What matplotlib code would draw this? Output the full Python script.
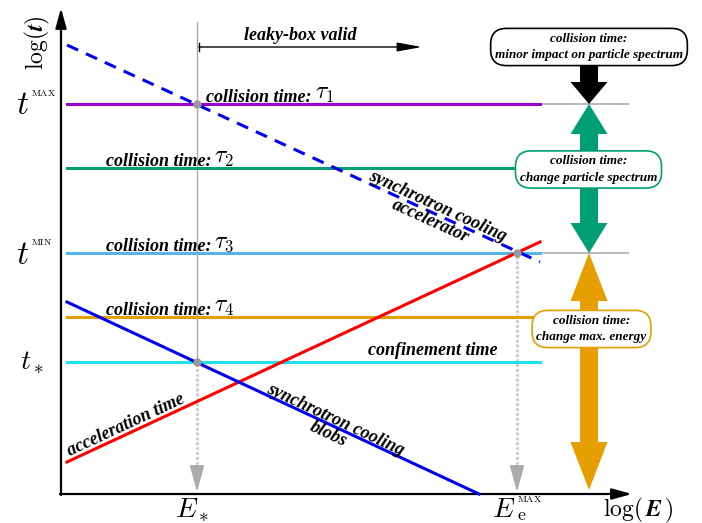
import matplotlib.pyplot as plt
from matplotlib.patches import Polygon

plt.rcParams['mathtext.fontset'] = 'cm'

# schematic values in log units (origin at the axis crossing)
E_start, E_end = 0.12, 9.58
E_star = 2.72
E_emax = 9.12
E_ref_end = 11.34
E_axis_end = 11.42
t_axis_end = 9.72

tau_levels = [7.8, 6.52, 4.82, 3.54]
tau_colors = ['#9900cc', '#009e73', '#56b4e9', '#e69f00']
tau_names = ['$\\tau_1$', '$\\tau_2$', '$\\tau_3$', '$\\tau_4$']
tau_label_E = [5.02, 3.0, 3.0, 3.0]
t_conf = 2.64

acc_E = [0.12, 9.58]
acc_t = [0.64, 5.04]
sync_acc_E = [0.12, 9.58]
sync_acc_t = [8.98, 4.64]
sync_blob_E = [0.12, 8.36]
sync_blob_t = [3.84, 0.0]

effect_E = 10.56
effect_t = [[7.8, 8.94], [4.82, 7.8], [0.08, 4.82]]
effect_colors = ['black', '#009e73', '#e69f00']
effect_head = [0.44, 0.6, 0.96]
effect_text = ['collision time:\nminor impact on particle spectrum',
               'collision time:\nchange particle spectrum',
               'collision time:\nchange max. energy']
effect_box = [(10.56, 8.94), (10.55, 6.49), (10.61, 3.30)]

lab_font = dict(family='Liberation Serif', style='italic', weight='bold')


def arrow_poly(x, lo, hi, hl, both, w=0.36, hw=0.74):
    # vertical block arrow, tip at lo (and at hi if both)
    pts = [(x, lo), (x + hw / 2, lo + hl), (x + w / 2, lo + hl)]
    if both:
        pts += [(x + w / 2, hi - hl), (x + hw / 2, hi - hl), (x, hi),
                (x - hw / 2, hi - hl), (x - w / 2, hi - hl)]
    else:
        pts += [(x + w / 2, hi), (x - w / 2, hi)]
    pts += [(x - w / 2, lo + hl), (x - hw / 2, lo + hl)]
    return pts


fig = plt.figure(figsize=(7.02, 5.23), dpi=100)
ax = fig.add_axes([0, 0, 1, 1])
ax.set_xlim(-1.22, 12.82)
ax.set_ylim(-0.58, 9.88)
ax.axis('off')

# axes arrows
ax_arrow = dict(arrowstyle='-|>,head_length=0.8,head_width=0.22', color='black',
                lw=1.6, mutation_scale=15, shrinkA=0, shrinkB=0)
ax.annotate('', xy=(E_axis_end, 0), xytext=(-0.02, 0), arrowprops=ax_arrow)
ax.annotate('', xy=(0, t_axis_end), xytext=(0, -0.02), arrowprops=ax_arrow)
ax.text(-0.48, 9.02, '$\\log(\\boldsymbol{t})$', rotation=90, fontsize=17,
        ha='center', va='center')
ax.text(11.54, -0.32, '$\\log(\\,\\boldsymbol{E}\\,)$', fontsize=17, ha='center', va='center')

# tick-like labels
for lev, sup in [(7.8, 'MAX'), (4.82, 'MIN')]:
    ax.text(-0.64, lev - 0.02, '$t$', fontsize=24, ha='right', va='center')
    ax.text(-0.6, lev + 0.16, '$\\mathrm{' + sup + '}$', fontsize=7, ha='left', va='baseline')
ax.text(-0.58, t_conf, '$t_*$', fontsize=20, ha='center', va='center')
ax.text(E_star - 0.1, -0.46, '$E_*$', fontsize=20, ha='center', va='baseline')
ax.text(E_emax - 0.04, -0.46, '$E$', fontsize=20, ha='right', va='baseline')
ax.text(E_emax, -0.17, '$\\mathrm{MAX}$', fontsize=7, ha='left', va='baseline')
ax.text(E_emax, -0.52, '$\\mathrm{e}$', fontsize=13, ha='left', va='baseline')

# vertical guide lines
guide_arrow = dict(arrowstyle='-|>,head_length=1.1,head_width=0.3', color='#aaaaaa',
                   lw=1.2, mutation_scale=15, shrinkA=0, shrinkB=0)
ax.plot([E_star, E_star], [t_conf, 9.44], color='#aaaaaa', lw=1.0, zorder=1)
ax.plot([E_star, E_star], [0.3, t_conf], color='#cfcfcf', lw=2.2, ls=(0, (1, 0.6)), zorder=1)
ax.annotate('', xy=(E_star, 0.04), xytext=(E_star, 0.45), arrowprops=guide_arrow)
ax.plot([E_emax, E_emax], [0.3, tau_levels[2]], color='#cfcfcf', lw=2.2, ls=(0, (1, 0.6)), zorder=1)
ax.annotate('', xy=(E_emax, 0.04), xytext=(E_emax, 0.45), arrowprops=guide_arrow)

# leaky-box arrow
ax.annotate('', xy=(7.22, 8.94), xytext=(E_star + 0.04, 8.94),
            arrowprops=dict(arrowstyle='-|>,head_length=1.0,head_width=0.18',
                            color='black', lw=1.0, mutation_scale=15, shrinkA=0, shrinkB=0))
ax.plot([E_star + 0.04] * 2, [8.86, 9.02], color='black', lw=1.0)
ax.text(4.78, 9.08, 'leaky-box valid', fontsize=13, ha='center', va='baseline', **lab_font)

# grey reference lines on the right
ax.plot([E_end, E_ref_end], [tau_levels[0]] * 2, color='#bbbbbb', lw=1.5, zorder=1)
ax.plot([E_end, E_ref_end], [tau_levels[2]] * 2, color='#bbbbbb', lw=1.5, zorder=1)

# collision time levels
for lev, c, n, xe in zip(tau_levels, tau_colors, tau_names, tau_label_E):
    ax.plot([E_start, E_end], [lev, lev], color=c, lw=2.2, zorder=2)
    ax.text(xe, lev + 0.04, 'collision time:', fontsize=13, ha='right',
            va='baseline', zorder=5, **lab_font)
    ax.text(xe + 0.06, lev + 0.1, n, fontsize=17, ha='left', va='baseline', zorder=5)

ax.plot([E_start, E_end], [t_conf, t_conf], color='#22e0ee', lw=2.2, zorder=2)
ax.text(7.44, t_conf + 0.14, 'confinement time', fontsize=13, ha='center',
        va='baseline', **lab_font)

ax.plot(acc_E, acc_t, color='red', lw=2.2, zorder=3)
ax.plot(sync_blob_E, sync_blob_t, color='#0000ee', lw=2.2, zorder=3)
ax.plot(sync_acc_E, sync_acc_t, color='#0000ee', lw=2.2, ls=(0, (4, 2.8)), zorder=3)

ax.text(1.3, 1.38, 'acceleration time', fontsize=13, rotation=24.9,
        rotation_mode='anchor', ha='center', va='center', **lab_font)
ax.text(5.42, 1.34, 'synchrotron cooling\nblobs', fontsize=13, rotation=-25,
        rotation_mode='anchor', ha='center', va='center', multialignment='center',
        linespacing=0.95, **lab_font)
ax.text(7.46, 5.6, 'synchrotron cooling\naccelerator', fontsize=13, rotation=-24.6,
        rotation_mode='anchor', ha='center', va='center', multialignment='center',
        linespacing=0.95, **lab_font)

# intersection dots
ax.plot([E_star, E_star, E_emax], [tau_levels[0], t_conf, tau_levels[2]], 'o',
        color='#999999', ms=5, zorder=4)

# effect arrows
for i, ((lo, hi), c, hl) in enumerate(zip(effect_t, effect_colors, effect_head)):
    ax.add_patch(Polygon(arrow_poly(effect_E, lo, hi, hl, both=i > 0),
                         closed=True, fc=c, ec='none', zorder=2))

for (bx, by), txt, c in zip(effect_box, effect_text, effect_colors):
    ax.text(bx, by, txt, fontsize=9.5, ha='center', va='center', multialignment='center',
            zorder=6, linespacing=1.5,
            bbox=dict(boxstyle='round,pad=0.33,rounding_size=1.2', fc='white', ec=c, lw=1.2),
            **lab_font)

fig.savefig('out.png', dpi=100)
